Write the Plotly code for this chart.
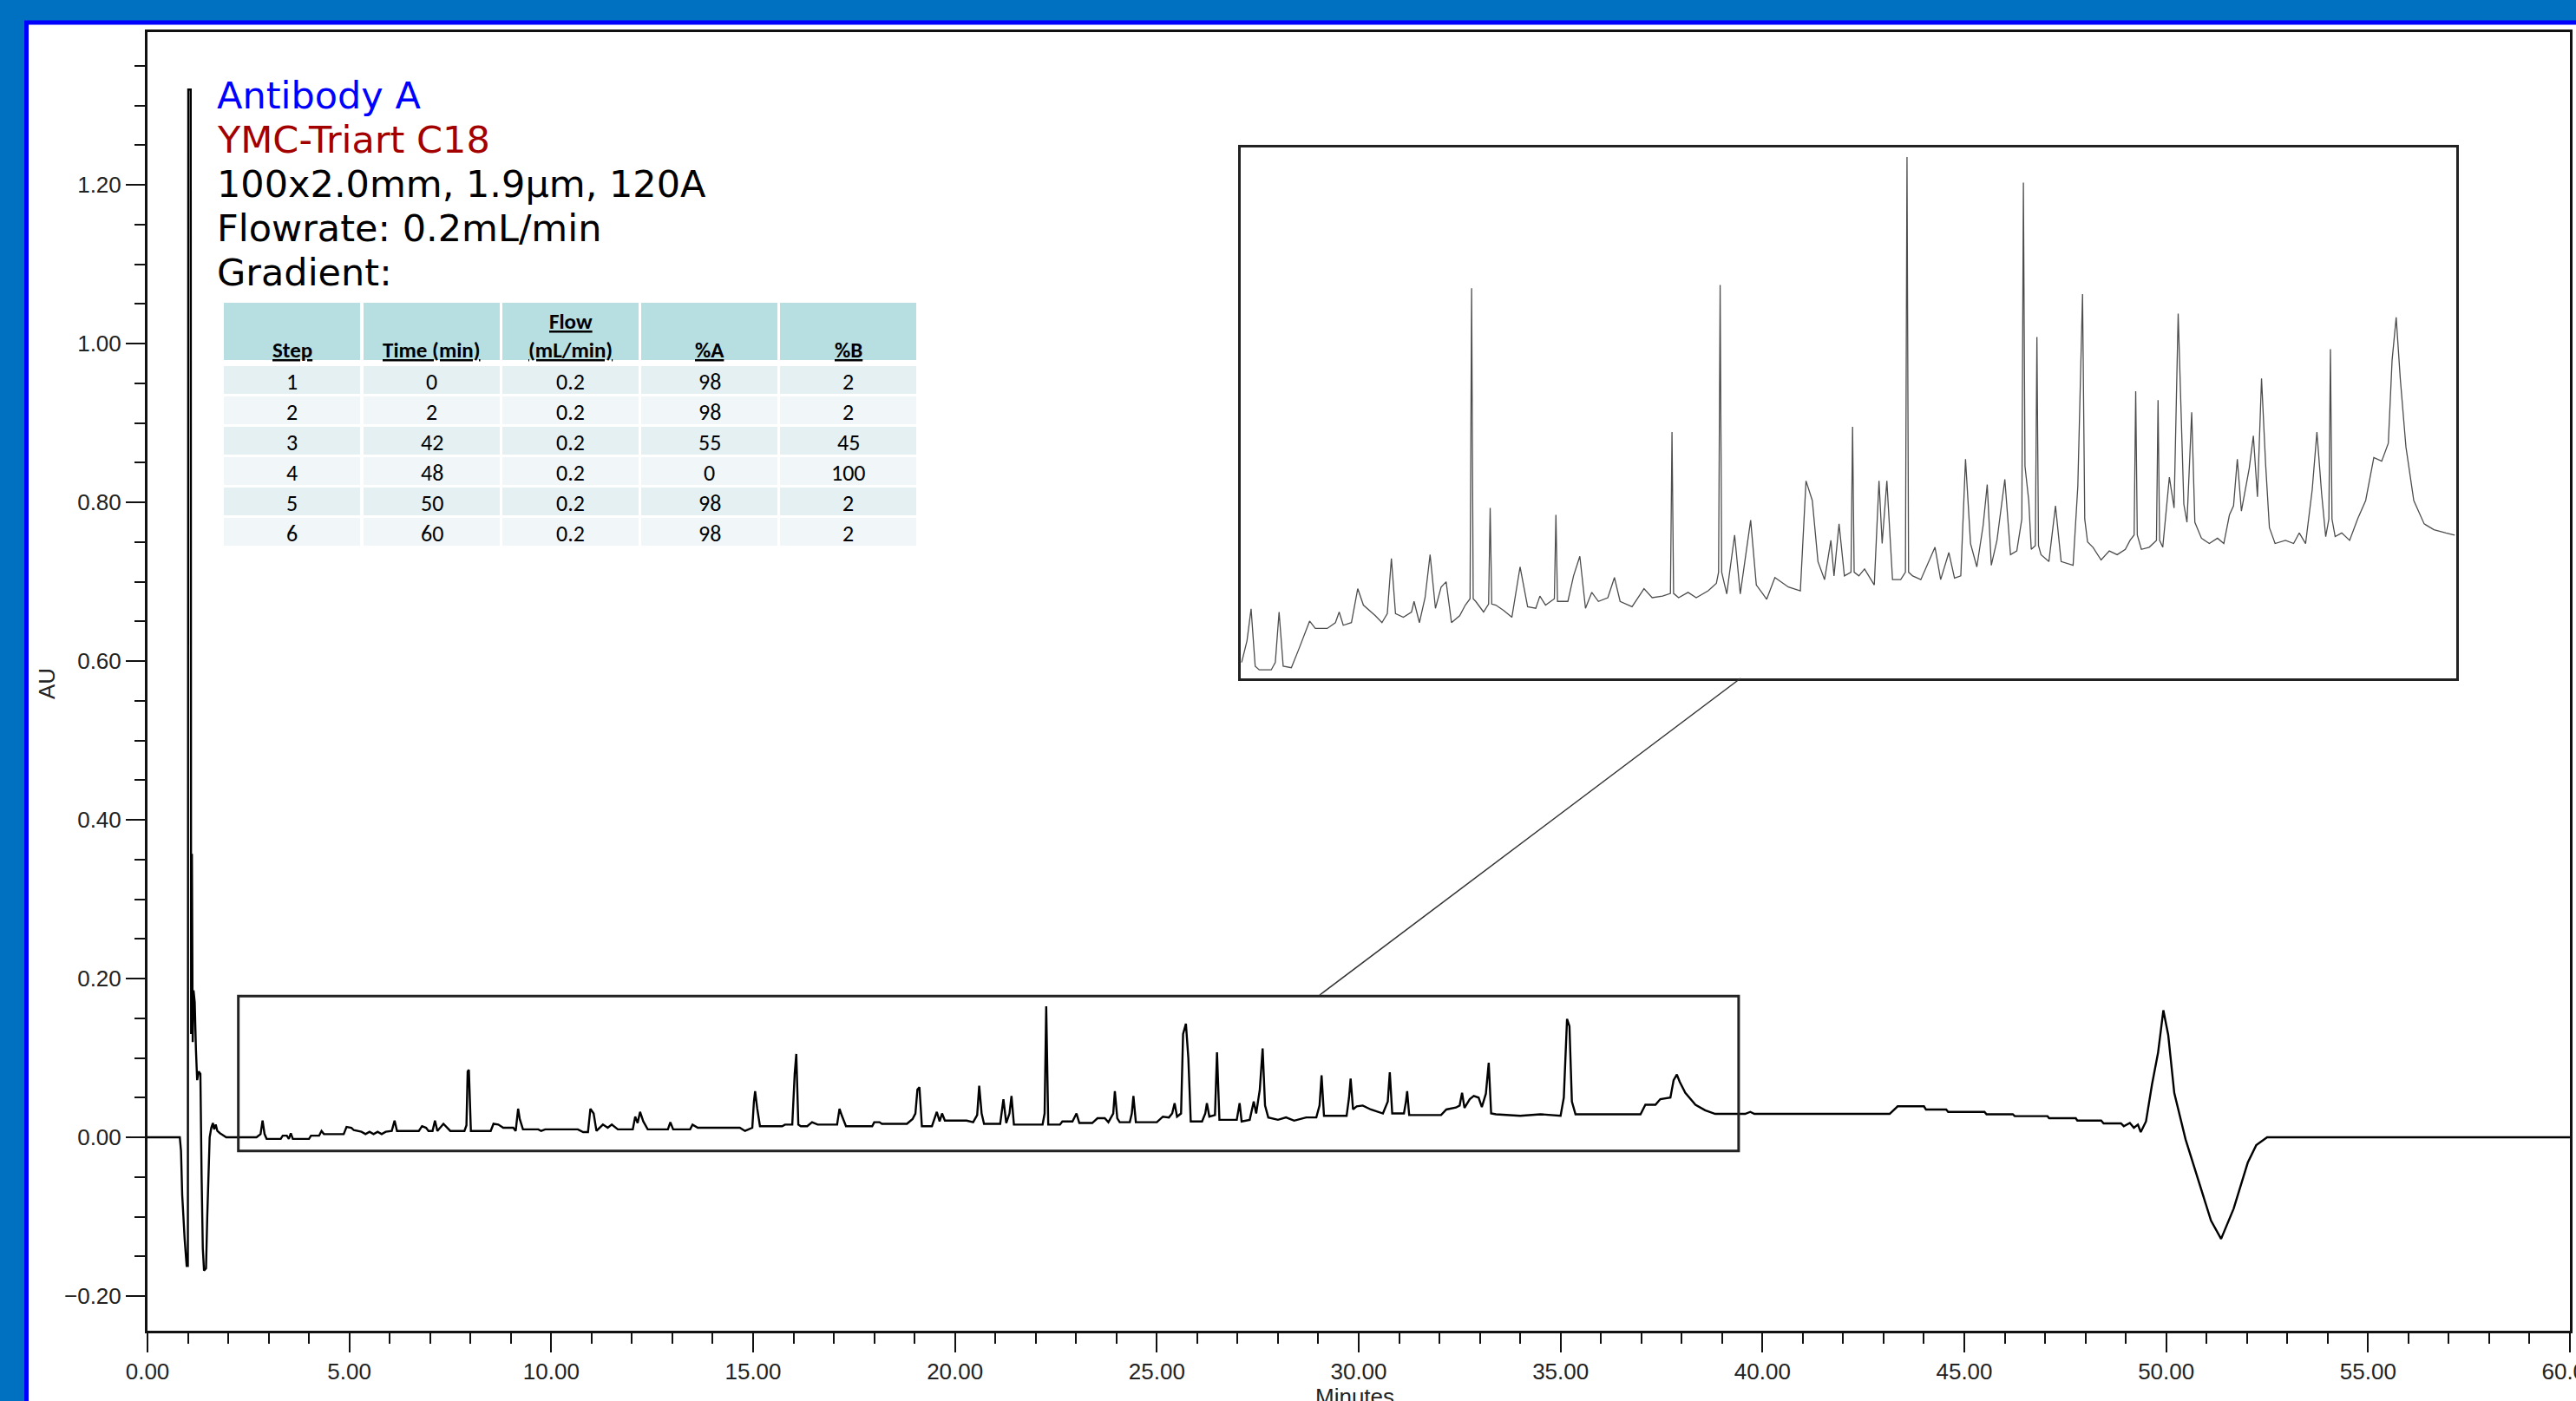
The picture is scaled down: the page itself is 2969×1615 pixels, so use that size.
import plotly.graph_objects as go

# ---------------------------------------------------------------- data
# main chromatogram (time in minutes, absorbance in AU)
main_time = [
    0, 0.80, 0.83, 0.86, 0.92, 0.97, 1.00, 1.01, 1.07, 1.08,
    1.10, 1.12, 1.14, 1.17, 1.20, 1.23, 1.27, 1.31, 1.34, 1.37,
    1.40, 1.45, 1.48, 1.51, 1.54, 1.58, 1.62, 1.65, 1.69, 1.73,
    1.80, 1.95, 2.70, 2.80, 2.85, 2.90, 2.95, 3.30, 3.35, 3.45,
    3.50, 3.55, 3.60, 4.00, 4.05, 4.25, 4.31, 4.37, 4.86, 4.93,
    5.05, 5.11, 5.30, 5.40, 5.50, 5.60, 5.70, 5.80, 5.90, 6.05,
    6.12, 6.18, 6.72, 6.80, 6.90, 6.96, 7.06, 7.12, 7.18, 7.33,
    7.50, 7.85, 7.90, 7.93, 7.96, 8.01, 8.50, 8.57, 8.69, 8.81,
    9.06, 9.12, 9.18, 9.22, 9.30, 9.68, 9.75, 9.85, 10.66, 10.79,
    10.91, 10.97, 11.05, 11.12, 11.28, 11.40, 11.50, 11.65, 12.02, 12.08,
    12.14, 12.20, 12.28, 12.39, 12.89, 12.95, 13.02, 13.44, 13.50, 13.63,
    14.67, 14.80, 14.98, 15.02, 15.05, 15.10, 15.17, 15.72, 15.79, 15.97,
    16.03, 16.07, 16.12, 16.18, 16.34, 16.46, 16.60, 17.08, 17.14, 17.20,
    17.30, 17.95, 18.00, 18.13, 18.19, 18.81, 18.95, 19.02, 19.07, 19.12,
    19.18, 19.43, 19.55, 19.62, 19.68, 19.75, 20.29, 20.45, 20.55, 20.60,
    20.66, 20.72, 21.12, 21.20, 21.27, 21.35, 21.40, 21.46, 22.17, 22.22,
    22.26, 22.31, 22.60, 22.66, 22.91, 23.01, 23.08, 23.40, 23.53, 23.71,
    23.80, 23.92, 23.96, 24.02, 24.08, 24.33, 24.38, 24.42, 24.48, 25.00,
    25.15, 25.30, 25.38, 25.44, 25.50, 25.60, 25.65, 25.72, 25.78, 25.84,
    26.12, 26.20, 26.24, 26.30, 26.44, 26.49, 26.55, 26.98, 27.05, 27.10,
    27.30, 27.40, 27.46, 27.55, 27.62, 27.68, 27.76, 28.00, 28.20, 28.40,
    28.70, 28.95, 29.03, 29.08, 29.14, 29.70, 29.76, 29.80, 29.86, 29.95,
    30.10, 30.30, 30.44, 30.60, 30.72, 30.77, 30.83, 31.12, 31.17, 31.20,
    31.25, 32.04, 32.17, 32.41, 32.50, 32.56, 32.62, 32.75, 32.85, 32.97,
    33.05, 33.15, 33.22, 33.28, 33.40, 34.00, 34.50, 35.00, 35.08, 35.16,
    35.22, 35.28, 35.37, 36.98, 37.10, 37.35, 37.47, 37.72, 37.80, 37.88,
    37.95, 38.09, 38.34, 38.58, 38.83, 39.57, 39.70, 39.80, 43.15, 43.35,
    44.00, 44.05, 44.55, 44.60, 45.50, 45.55, 46.20, 46.25, 47.06, 47.10,
    47.76, 47.80, 48.39, 48.45, 48.88, 48.95, 49.10, 49.20, 49.30, 49.37,
    49.50, 49.65, 49.80, 49.93, 50.05, 50.20, 50.48, 50.83, 51.11, 51.36,
    51.67, 52.02, 52.23, 52.50, 60.00,
]
main_au = [
    0, 0, -0.017, -0.073, -0.128, -0.162, -0.162, 1.32, 1.32, 0.13,
    0.357, 0.12, 0.185, 0.17, 0.11, 0.072, 0.083, 0.08, -0.048, -0.14,
    -0.168, -0.165, -0.10, -0.048, 0.0, 0.012, 0.018, 0.01, 0.016, 0.008,
    0.005, 0.0, 0.0, 0.004, 0.021, 0.004, -0.002, -0.002, 0.002, 0.002,
    -0.002, 0.005, -0.002, -0.002, 0.002, 0.002, 0.008, 0.004, 0.004, 0.013,
    0.012, 0.009, 0.007, 0.004, 0.007, 0.004, 0.007, 0.004, 0.007, 0.008,
    0.021, 0.008, 0.008, 0.014, 0.012, 0.008, 0.008, 0.021, 0.008, 0.017,
    0.008, 0.008, 0.015, 0.083, 0.085, 0.008, 0.008, 0.017, 0.016, 0.012,
    0.012, 0.008, 0.036, 0.023, 0.010, 0.010, 0.008, 0.010, 0.010, 0.0066,
    0.0066, 0.036, 0.030, 0.008, 0.016, 0.012, 0.016, 0.010, 0.010, 0.026,
    0.018, 0.032, 0.020, 0.010, 0.010, 0.019, 0.010, 0.010, 0.016, 0.012,
    0.012, 0.008, 0.012, 0.045, 0.058, 0.037, 0.014, 0.014, 0.016, 0.016,
    0.080, 0.105, 0.016, 0.014, 0.014, 0.019, 0.016, 0.016, 0.036, 0.027,
    0.014, 0.014, 0.019, 0.019, 0.017, 0.017, 0.023, 0.030, 0.060, 0.063,
    0.014, 0.014, 0.032, 0.020, 0.030, 0.021, 0.021, 0.019, 0.028, 0.065,
    0.030, 0.017, 0.017, 0.048, 0.018, 0.030, 0.052, 0.016, 0.016, 0.030,
    0.165, 0.016, 0.016, 0.020, 0.020, 0.030, 0.018, 0.018, 0.024, 0.024,
    0.019, 0.030, 0.058, 0.024, 0.019, 0.019, 0.030, 0.052, 0.019, 0.019,
    0.026, 0.025, 0.030, 0.043, 0.026, 0.030, 0.130, 0.143, 0.100, 0.020,
    0.020, 0.030, 0.043, 0.026, 0.028, 0.107, 0.022, 0.022, 0.043, 0.020,
    0.022, 0.045, 0.030, 0.060, 0.112, 0.040, 0.025, 0.022, 0.025, 0.021,
    0.025, 0.025, 0.040, 0.078, 0.027, 0.027, 0.050, 0.074, 0.035, 0.039,
    0.040, 0.035, 0.033, 0.030, 0.045, 0.082, 0.030, 0.030, 0.045, 0.058,
    0.028, 0.028, 0.035, 0.0375, 0.040, 0.056, 0.037, 0.048, 0.052, 0.050,
    0.038, 0.055, 0.094, 0.030, 0.029, 0.027, 0.029, 0.027, 0.050, 0.149,
    0.140, 0.045, 0.029, 0.029, 0.041, 0.041, 0.048, 0.050, 0.072, 0.079,
    0.070, 0.056, 0.041, 0.034, 0.0295, 0.0295, 0.032, 0.0295, 0.0295, 0.039,
    0.039, 0.035, 0.035, 0.032, 0.032, 0.029, 0.029, 0.0266, 0.0266, 0.024,
    0.024, 0.021, 0.021, 0.0175, 0.0175, 0.014, 0.018, 0.012, 0.016, 0.0066,
    0.020, 0.067, 0.107, 0.160, 0.129, 0.056, -0.0026, -0.061, -0.105, -0.128,
    -0.090, -0.032, -0.010, 0.0, 0.0,
]

# magnified inset trace (time in minutes, relative response 0..1)
inset_time = [
    1.15, 1.32, 1.45, 1.58, 1.71, 2.09, 2.22, 2.34, 2.47, 2.73,
    2.98, 3.31, 3.49, 3.87, 4.13, 4.25, 4.38, 4.64, 4.84, 5.02,
    5.40, 5.61, 5.78, 5.91, 6.04, 6.29, 6.55, 6.63, 6.80, 6.98,
    7.14, 7.31, 7.49, 7.65, 7.82, 8.08, 8.26, 8.41, 8.46, 8.51,
    8.59, 8.84, 9.00, 9.05, 9.10, 9.23, 9.48, 9.74, 10.00, 10.24,
    10.50, 10.63, 10.81, 10.96, 11.09, 11.14, 11.19, 11.52, 11.70, 11.90,
    12.08, 12.28, 12.49, 12.79, 13.00, 13.18, 13.56, 13.94, 14.20, 14.53,
    14.78, 14.83, 14.88, 15.04, 15.34, 15.60, 15.98, 16.24, 16.31, 16.36,
    16.41, 16.57, 16.82, 17.00, 17.33, 17.51, 17.84, 18.10, 18.28, 18.53,
    18.91, 19.09, 19.29, 19.47, 19.68, 19.88, 19.98, 20.14, 20.31, 20.52,
    20.57, 20.62, 20.77, 20.95, 21.26, 21.41, 21.51, 21.66, 21.84, 22.10,
    22.25, 22.30, 22.35, 22.48, 22.74, 23.19, 23.37, 23.63, 23.81, 24.01,
    24.16, 24.32, 24.52, 24.72, 24.85, 24.98, 25.16, 25.41, 25.59, 25.79,
    25.95, 26.00, 26.05, 26.17, 26.25, 26.38, 26.43, 26.48, 26.56, 26.81,
    27.02, 27.20, 27.58, 27.73, 27.88, 27.95, 28.04, 28.21, 28.47, 28.73,
    28.98, 29.24, 29.39, 29.52, 29.57, 29.62, 29.75, 30.00, 30.23, 30.28,
    30.33, 30.43, 30.64, 30.79, 30.92, 31.10, 31.20, 31.35, 31.45, 31.66,
    31.91, 32.17, 32.37, 32.55, 32.68, 32.80, 32.93, 33.18, 33.31, 33.44,
    33.57, 33.70, 33.82, 34.00, 34.33, 34.59, 34.77, 34.97, 35.18, 35.33,
    35.48, 35.61, 35.71, 35.76, 35.81, 35.91, 36.12, 36.37, 36.63, 36.88,
    37.14, 37.39, 37.60, 37.72, 37.85, 37.98, 38.16, 38.41, 38.74, 39.05,
    39.43, 39.71,
]
inset_signal = [
    0.030, 0.071, 0.131, 0.023, 0.016, 0.016, 0.030, 0.125, 0.023, 0.020,
    0.057, 0.108, 0.094, 0.094, 0.105, 0.125, 0.100, 0.105, 0.169, 0.138,
    0.118, 0.105, 0.122, 0.226, 0.122, 0.115, 0.125, 0.145, 0.105, 0.152,
    0.233, 0.132, 0.172, 0.182, 0.105, 0.118, 0.138, 0.150, 0.735, 0.150,
    0.145, 0.125, 0.140, 0.321, 0.140, 0.138, 0.128, 0.115, 0.210, 0.135,
    0.132, 0.155, 0.138, 0.145, 0.150, 0.308, 0.145, 0.145, 0.193, 0.230,
    0.132, 0.162, 0.145, 0.152, 0.190, 0.145, 0.135, 0.169, 0.152, 0.155,
    0.160, 0.464, 0.160, 0.152, 0.162, 0.152, 0.165, 0.179, 0.200, 0.741,
    0.200, 0.159, 0.270, 0.159, 0.298, 0.176, 0.149, 0.190, 0.183, 0.172,
    0.165, 0.372, 0.335, 0.220, 0.186, 0.260, 0.193, 0.291, 0.193, 0.200,
    0.474, 0.200, 0.193, 0.206, 0.176, 0.372, 0.254, 0.372, 0.186, 0.186,
    0.200, 0.982, 0.200, 0.193, 0.186, 0.247, 0.186, 0.237, 0.189, 0.193,
    0.413, 0.254, 0.210, 0.288, 0.365, 0.213, 0.260, 0.375, 0.233, 0.240,
    0.300, 0.934, 0.400, 0.335, 0.243, 0.250, 0.643, 0.250, 0.233, 0.220,
    0.325, 0.220, 0.213, 0.362, 0.724, 0.300, 0.257, 0.247, 0.223, 0.240,
    0.233, 0.243, 0.260, 0.270, 0.541, 0.270, 0.243, 0.247, 0.260, 0.524,
    0.260, 0.247, 0.379, 0.321, 0.687, 0.328, 0.294, 0.501, 0.294, 0.264,
    0.254, 0.264, 0.254, 0.308, 0.325, 0.413, 0.315, 0.396, 0.457, 0.342,
    0.565, 0.403, 0.284, 0.254, 0.260, 0.254, 0.274, 0.254, 0.355, 0.464,
    0.348, 0.267, 0.300, 0.620, 0.300, 0.267, 0.274, 0.260, 0.301, 0.335,
    0.416, 0.409, 0.443, 0.599, 0.680, 0.565, 0.436, 0.335, 0.291, 0.280,
    0.274, 0.270,
]
assert len(main_time) == len(main_au)
assert len(inset_time) == len(inset_signal)

info_lines = ["Antibody A", "YMC-Triart C18", "100x2.0mm, 1.9µm, 120A",
              "Flowrate: 0.2mL/min", "Gradient:"]
info_colors = ["#0000FF", "#A30000", "#000000", "#000000", "#000000"]

table_header = ["Step", "Time (min)", "Flow|(mL/min)", "%A", "%B"]
table_step = ["1", "2", "3", "4", "5", "6"]
table_time_min = ["0", "2", "42", "48", "50", "60"]
table_flow = ["0.2", "0.2", "0.2", "0.2", "0.2", "0.2"]
table_pct_a = ["98", "98", "55", "0", "98", "98"]
table_pct_b = ["2", "2", "45", "100", "2", "2"]

x_range = [0, 60]
zoom_box_time = [2.25, 39.41]
zoom_box_au = [-0.0171, 0.1778]
inset_time_range = [1.12, 39.76]
inset_signal_range = [0, 1]

# ---------------------------------------------------------------- geometry
W, H = 2969, 1615
PL, PR, PT, PB = 170, 2962, 37, 1534          # plot-area pixel bounds
AU0_PX, PX_PER_AU = 1311, 915                 # y pixel of 0 AU, pixels per AU


def fx(px):
    return (px - PL) / (PR - PL)


def fy(py):
    return (PB - py) / (PB - PT)


y_range = [(AU0_PX - PB) / PX_PER_AU, (AU0_PX - PT) / PX_PER_AU]

fig = go.Figure()
fig.add_trace(go.Scatter(x=main_time, y=main_au, mode="lines",
                         line=dict(color="#000000", width=2.4),
                         hoverinfo="skip", showlegend=False))
fig.add_trace(go.Scatter(x=inset_time, y=inset_signal, mode="lines",
                         xaxis="x2", yaxis="y2",
                         line=dict(color="#4d4d4d", width=1.3),
                         hoverinfo="skip", showlegend=False))

axis_font = dict(family="Liberation Sans, Arial, sans-serif", size=26, color="#222222")
tick_style = dict(ticks="outside", ticklen=22, tickwidth=2, tickcolor="#111111")

fig.update_layout(
    width=W, height=H, autosize=False,
    margin=dict(l=PL, r=W - PR, t=PT, b=H - PB, pad=0, autoexpand=False),
    paper_bgcolor="#0070C0", plot_bgcolor="#FFFFFF", showlegend=False,
    xaxis=dict(domain=[0, 1], range=x_range, showline=True, mirror=True,
               linecolor="#111111", linewidth=3, tick0=0, dtick=5,
               tickformat=".2f", showgrid=False, zeroline=False,
               tickfont=axis_font, fixedrange=True, ticklabeloverflow="allow",
               automargin=False,
               minor=dict(tick0=0, dtick=1, ticks="outside", ticklen=12,
                          tickwidth=2, tickcolor="#111111"),
               **tick_style),
    yaxis=dict(domain=[0, 1], range=y_range, showline=True, mirror=True,
               linecolor="#111111", linewidth=3, tick0=0, dtick=0.2,
               tickformat=".2f", showgrid=False, zeroline=False,
               tickfont=axis_font, fixedrange=True, automargin=False,
               minor=dict(tick0=0, dtick=0.05, ticks="outside", ticklen=12,
                          tickwidth=2, tickcolor="#111111"),
               **tick_style),
    xaxis2=dict(domain=[fx(1430), fx(2831)], anchor="y2",
                range=inset_time_range, showline=True, mirror=True,
                linecolor="#222222", linewidth=3, showticklabels=False,
                ticks="", showgrid=False, zeroline=False, fixedrange=True),
    yaxis2=dict(domain=[fy(782), fy(170)], anchor="x2",
                range=inset_signal_range, showline=True, mirror=True,
                linecolor="#222222", linewidth=3, showticklabels=False,
                ticks="", showgrid=False, zeroline=False, fixedrange=True),
)

shapes = []
# white slide panel with bright-blue border
shapes.append(dict(type="rect", xref="paper", yref="paper", layer="below",
                   x0=fx(30.5), x1=fx(3060), y0=fy(1700), y1=fy(26),
                   fillcolor="#FFFFFF", line=dict(color="#0000FF", width=5)))
# zoom window on main trace
shapes.append(dict(type="rect", xref="x", yref="y",
                   x0=zoom_box_time[0], x1=zoom_box_time[1],
                   y0=zoom_box_au[0], y1=zoom_box_au[1],
                   line=dict(color="#222222", width=3)))
# connector line from inset to zoom window
shapes.append(dict(type="line", xref="paper", yref="paper",
                   x0=fx(2006), y0=fy(782), x1=fx(1521), y1=fy(1147),
                   line=dict(color="#333333", width=1.5)))

# ----- gradient table
COL_LEFT = [258, 419, 579, 739, 899]
COL_W = 157
HEAD_TOP, HEAD_BOT = 349, 415
ROW_TOP0, ROW_PITCH, ROW_H = 422, 35, 32
HEAD_FILL = "#B7DEE1"
ROW_FILLS = ["#E5F0F2", "#F1F7F8"]
table_font = "Carlito, Calibri, Lato, sans-serif"

annotations = []
columns = [table_step, table_time_min, table_flow, table_pct_a, table_pct_b]
for c, left in enumerate(COL_LEFT):
    shapes.append(dict(type="rect", xref="paper", yref="paper", layer="above",
                       x0=fx(left), x1=fx(left + COL_W),
                       y0=fy(HEAD_BOT), y1=fy(HEAD_TOP),
                       fillcolor=HEAD_FILL, line=dict(width=0)))
    head_lines = table_header[c].split("|")
    for k, txt in enumerate(reversed(head_lines)):
        annotations.append(dict(xref="paper", yref="paper",
                                x=fx(left + COL_W / 2), y=fy(403 - 33 * k),
                                text="<b><u>%s</u></b>" % txt, showarrow=False,
                                xanchor="center", yanchor="middle",
                                font=dict(family=table_font, size=25, color="#000000")))
    for r, val in enumerate(columns[c]):
        top = ROW_TOP0 + ROW_PITCH * r
        shapes.append(dict(type="rect", xref="paper", yref="paper", layer="above",
                           x0=fx(left), x1=fx(left + COL_W),
                           y0=fy(top + ROW_H), y1=fy(top),
                           fillcolor=ROW_FILLS[r % 2], line=dict(width=0)))
        annotations.append(dict(xref="paper", yref="paper",
                                x=fx(left + COL_W / 2), y=fy(top + ROW_H / 2 + 2),
                                text=val, showarrow=False,
                                xanchor="center", yanchor="middle",
                                font=dict(family=table_font, size=26, color="#000000")))

# ----- descriptive text block
for i, (txt, col) in enumerate(zip(info_lines, info_colors)):
    annotations.append(dict(xref="paper", yref="paper", x=fx(248), y=fy(110 + 51 * i),
                            text=txt, showarrow=False, xanchor="left", yanchor="middle",
                            font=dict(family="DejaVu Sans, Verdana, sans-serif",
                                      size=43, color=col)))

# ----- axis titles
annotations.append(dict(xref="paper", yref="paper", x=fx(54), y=fy(788),
                        text="AU", textangle=-90, showarrow=False,
                        xanchor="center", yanchor="middle",
                        font=dict(family="Liberation Sans, Arial, sans-serif",
                                  size=26, color="#222222")))
annotations.append(dict(xref="paper", yref="paper", x=fx(1561), y=fy(1593),
                        text="Minutes", showarrow=False,
                        xanchor="center", yanchor="top",
                        font=dict(family="Liberation Sans, Arial, sans-serif",
                                  size=26, color="#222222")))

fig.update_layout(shapes=shapes, annotations=annotations)

fig.write_html("out.html", config={"displayModeBar": False, "staticPlot": True},
               post_script="document.body.style.margin='0';document.body.style.overflow='hidden';")
